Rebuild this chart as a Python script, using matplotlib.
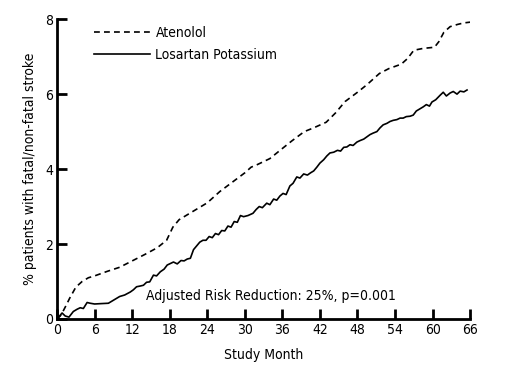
import matplotlib
matplotlib.use("Agg")
import matplotlib.pyplot as plt

plt.rcParams['font.family'] = ['DejaVu Sans']
plt.rcParams['font.stretch'] = 'condensed'

# Atenolol (dashed)
aten_month = [0, 0.5, 1, 1.5, 2, 3, 4, 5, 6, 8, 10, 12, 14, 16, 17.5, 18.5, 19.5,
              21, 22.5, 24, 26, 28, 30, 31, 32, 34, 36, 37.5, 39.5, 41, 43, 44.5,
              46, 48, 49.5, 51.5, 53, 55, 56, 57, 58.5, 60.3, 61, 61.8, 62.8, 64,
              65, 66]
aten_pct = [0, 0.08, 0.22, 0.38, 0.55, 0.85, 1.0, 1.1, 1.15, 1.27, 1.38, 1.55,
            1.72, 1.9, 2.1, 2.45, 2.65, 2.8, 2.95, 3.1, 3.4, 3.65, 3.9, 4.05,
            4.12, 4.28, 4.55, 4.75, 5.0, 5.1, 5.25, 5.5, 5.8, 6.05, 6.25, 6.55,
            6.68, 6.8, 6.95, 7.17, 7.22, 7.25, 7.4, 7.65, 7.8, 7.86, 7.9, 7.92]

# Losartan Potassium (solid)
los_month = [0, 0.8, 1.3, 1.9, 2.6, 3.2, 3.7, 4.2, 4.8, 5.3, 6, 7, 8.2, 9, 10,
             10.8, 11.7, 12.2, 12.7, 13.3, 13.8, 14.3, 14.8, 15.4, 15.9, 16.5,
             17.1, 17.6, 18.1, 18.6, 19.2, 19.8, 20.3, 20.8, 21.3, 21.8, 22.3,
             22.8, 23.3, 23.8, 24.3, 24.8, 25.3, 25.8, 26.3, 26.8, 27.3, 27.8,
             28.3, 28.8, 29.3, 29.8, 30.5, 31.3, 31.8, 32.3, 32.8, 33.5, 34,
             34.6, 35.1, 35.6, 36.1, 36.6, 37.2, 37.7, 38.3, 38.8, 39.4, 40,
             40.5, 41, 41.5, 42, 42.6, 43.1, 43.6, 44.2, 44.8, 45.3, 45.8, 46.3,
             46.8, 47.3, 47.9, 48.4, 49, 49.5, 50, 50.5, 51.1, 51.6, 52.1, 52.7,
             53.2, 53.7, 54.3, 54.8, 55.3, 55.8, 56.4, 56.9, 57.4, 57.9, 58.5,
             59, 59.5, 59.9, 60.5, 61.2, 61.7, 62.2, 62.8, 63.3, 63.9, 64.4, 65,
             65.5]
los_pct = [0, 0.16, 0.08, 0.05, 0.2, 0.26, 0.3, 0.28, 0.44, 0.42, 0.4, 0.41,
           0.42, 0.5, 0.6, 0.64, 0.72, 0.78, 0.86, 0.88, 0.9, 0.98, 0.99, 1.17,
           1.15, 1.26, 1.33, 1.44, 1.48, 1.52, 1.47, 1.56, 1.55, 1.6, 1.62,
           1.85, 1.95, 2.05, 2.1, 2.1, 2.2, 2.17, 2.28, 2.25, 2.36, 2.35, 2.48,
           2.45, 2.6, 2.58, 2.76, 2.73, 2.76, 2.82, 2.92, 3.0, 2.97, 3.09, 3.05,
           3.2, 3.17, 3.28, 3.35, 3.32, 3.55, 3.62, 3.79, 3.76, 3.87, 3.84, 3.9,
           3.95, 4.05, 4.16, 4.25, 4.35, 4.43, 4.45, 4.5, 4.48, 4.58, 4.59,
           4.65, 4.63, 4.72, 4.76, 4.8, 4.86, 4.92, 4.96, 5.0, 5.1, 5.18, 5.22,
           5.27, 5.3, 5.32, 5.36, 5.36, 5.4, 5.41, 5.44, 5.55, 5.6, 5.66, 5.72,
           5.68, 5.79, 5.85, 5.97, 6.05, 5.95, 6.03, 6.07, 6.0, 6.08, 6.06, 6.11]

x_ticks = list(range(0, 67, 6))
y_ticks = [0, 2, 4, 6, 8]

fig = plt.figure(figsize=(5.05, 3.72), dpi=100)
ax = fig.add_axes([0.113, 0.1425, 0.818, 0.806])

ax.plot(aten_month, aten_pct, color="black", lw=1.2, linestyle=(0, (3.5, 2.5)),
        label="Atenolol")
ax.plot(los_month, los_pct, color="black", lw=1.2, label="Losartan Potassium")

ax.set_xlim(0, 66)
ax.set_ylim(0, 8)
ax.set_xticks(x_ticks)
ax.set_yticks(y_ticks)
for s in ["top", "right"]:
    ax.spines[s].set_visible(False)
for s in ["left", "bottom"]:
    ax.spines[s].set_linewidth(2)
ax.tick_params(direction="in", length=7, width=2, labelsize=10, pad=3)

ax.set_xlabel("Study Month", fontsize=10, labelpad=8)
ax.set_ylabel("% patients with fatal/non-fatal stroke", fontsize=10, labelpad=6)

ax.text(34.2, 0.61, "Adjusted Risk Reduction: 25%, p=0.001", fontsize=10,
        ha="center", va="center")

ax.legend(loc="upper left", bbox_to_anchor=(0.06, 1.02), frameon=False,
          handlelength=4, handletextpad=0.4, labelspacing=0.6, fontsize=10)

fig.savefig("out.png", dpi=100)
